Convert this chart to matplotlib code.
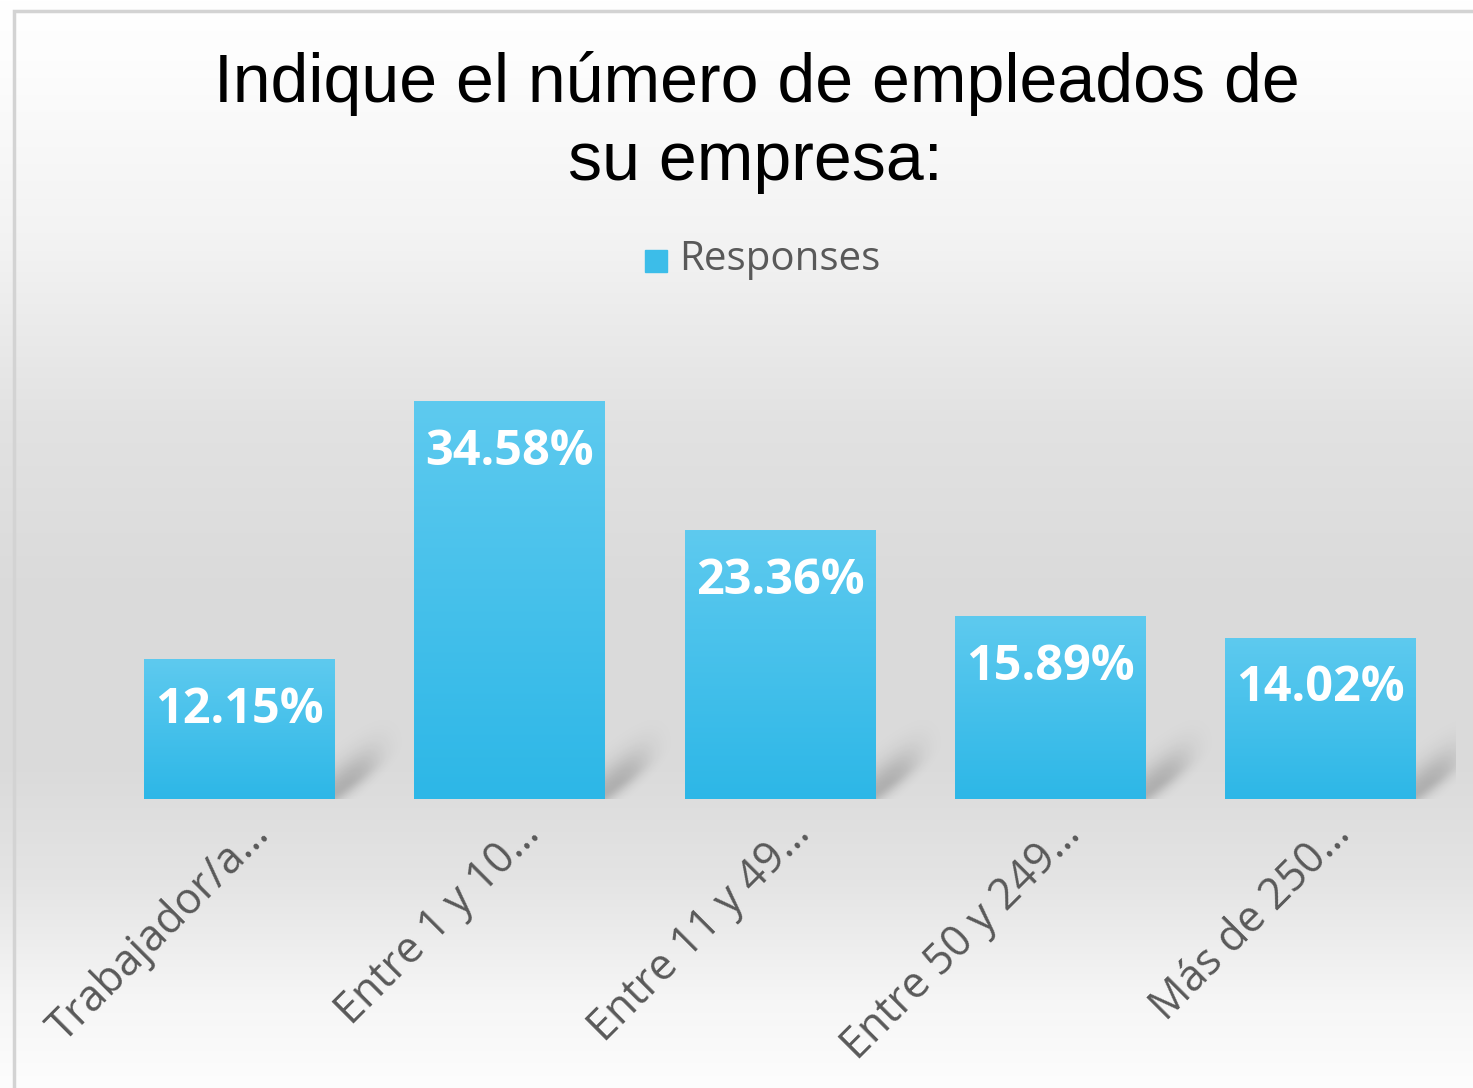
import matplotlib
matplotlib.use("Agg")
import matplotlib.pyplot as plt
import matplotlib.transforms as mtransforms
import numpy as np
from matplotlib.colors import LinearSegmentedColormap
from matplotlib.patches import Rectangle

categories = ["Trabajador/a…", "Entre 1 y 10…", "Entre 11 y 49…",
              "Entre 50 y 249…", "Más de 250…"]
responses = [12.15, 34.58, 23.36, 15.89, 14.02]
value_labels = ["12.15%", "34.58%", "23.36%", "15.89%", "14.02%"]
title_lines = ["Indique el número de empleados de", "su empresa:"]
legend_label = "Responses"

W, H = 1473, 1088
fig = plt.figure(figsize=(W / 100, H / 100), dpi=100)

# background gradient over the whole figure
bg = fig.add_axes([0, 0, 1, 1], zorder=0)
stops_y = [0, 60, 250, 420, 600, 760, 880, 1000, 1088]
stops_v = [255, 253, 242, 226, 218, 218, 228, 246, 253]
col = np.interp(np.arange(H), stops_y, stops_v) / 255.0
img = np.dstack([col[:, None]] * 3)
bg.imshow(img, aspect="auto", extent=(0, 1, 0, 1), origin="upper")
bg.set_axis_off()
fig.patches.append(Rectangle((14 / W, -0.05), 1.2, 1 - 11 / H + 0.05,
                             transform=fig.transFigure, fill=False,
                             edgecolor="#d3d3d3", lw=2.5, zorder=5))

ax = fig.add_axes([104 / W, 1 - 799 / H, (1456 - 104) / W, (799 - 339) / H], zorder=1)
ax.patch.set_alpha(0)
x = np.arange(len(categories))
bars = ax.bar(x, responses, width=0.705, color="none", zorder=3)
ax.set_xlim(-0.5, len(categories) - 0.5)
ax.set_ylim(0, 40)

# pixel -> data scale of this axes
px_x = (1456 - 104) / len(categories)
px_y = (799 - 339) / 40.0

bar_cmap = LinearSegmentedColormap.from_list("bar", ["#5ecaef", "#2db7e7"])
grad = np.linspace(0, 1, 256)[:, None]

# soft shadow, built in pixels right of the bar edge
gx, gy = np.meshgrid(np.linspace(0, 80, 160), np.linspace(0, 90, 180))
d = gy - (6 + 0.75 * gx)
across = np.where(d > 0, np.exp(-(d / 24.0) ** 2), np.exp(-(d / 12.0) ** 2))
along = np.exp(-(gx / 42.0) ** 3)
shadow = np.zeros(gx.shape + (4,))
shadow[..., 3] = 0.2 * across * along

for b in bars:
    x0, y0 = b.get_x(), b.get_y()
    x1, y1 = x0 + b.get_width(), y0 + b.get_height()
    ax.imshow(shadow, extent=(x1, x1 + 80 / px_x, 0, 90 / px_y), origin="lower",
              aspect="auto", zorder=2, interpolation="bilinear")
    im = ax.imshow(grad, cmap=bar_cmap, extent=(x0, x1, y0, y1),
                   origin="upper", aspect="auto", zorder=3)
    im.set_clip_path(b)

ax.set_xlim(-0.5, len(categories) - 0.5)
ax.set_ylim(0, 40)

for xi, v, lab in zip(x, responses, value_labels):
    ax.annotate(lab, (xi, v), xytext=(0, -19), textcoords="offset points",
                ha="center", va="top", color="white", fontsize=35,
                fontweight="bold", family="Open Sans", zorder=4)

ax.set_xticks(x)
ax.tick_params(axis="x", length=0, pad=0)
ax.set_xticklabels(categories, rotation=45, ha="right", rotation_mode="anchor",
                   fontsize=31, family="Open Sans", color="#595959")
# tick_params(pad=...) resets label transforms, so shift after it
shift = mtransforms.ScaledTranslation(0.08, -0.13, fig.dpi_scale_trans)
for t in ax.get_xticklabels():
    t.set_transform(t.get_transform() + shift)
ax.set_yticks([])
for s in ax.spines.values():
    s.set_visible(False)

fig.text(757 / W, 1 - 102 / H, title_lines[0], ha="center", va="baseline",
         fontsize=49, family="Liberation Sans", color="black")
fig.text(755 / W, 1 - 180 / H, title_lines[1], ha="center", va="baseline",
         fontsize=49, family="Liberation Sans", color="black")

fig.patches.append(Rectangle((645 / W, 1 - 272 / H), 22 / W, 22 / H,
                             transform=fig.transFigure, color="#3cbde9", zorder=5))
fig.text(679 / W, 1 - 270 / H, legend_label, ha="left", va="baseline",
         fontsize=29, family="Open Sans", color="#595959")

fig.savefig("out.png", dpi=100)
